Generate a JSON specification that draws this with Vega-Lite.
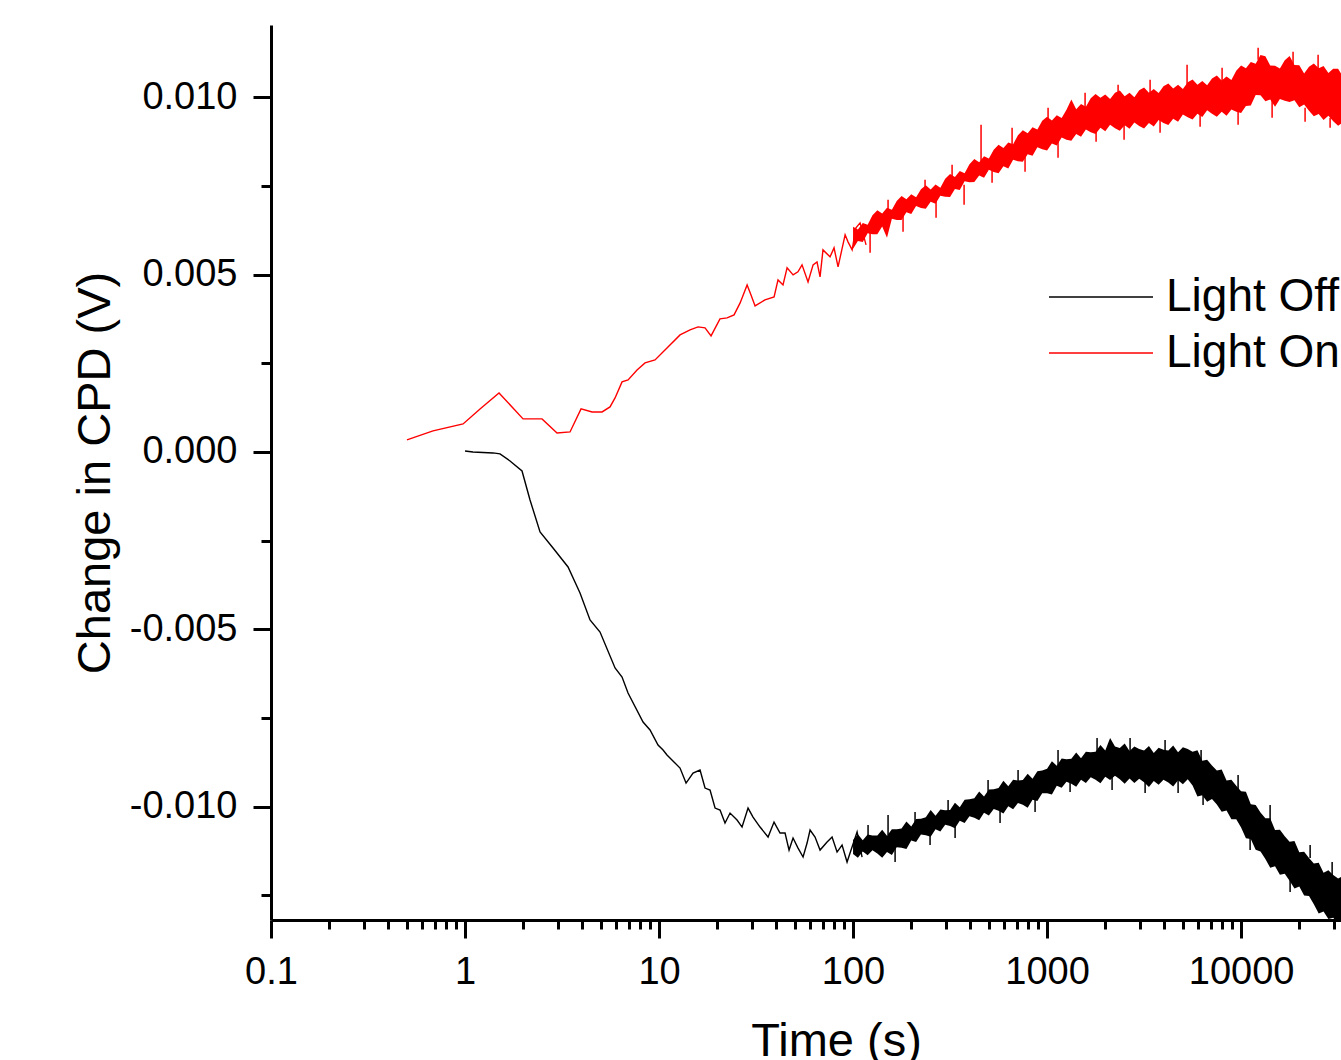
{
  "$schema": "https://vega.github.io/schema/vega-lite/v6.json",
  "width": 1070,
  "height": 895,
  "autosize": {"type": "none"},
  "padding": {"left": 271, "top": 25, "right": 0, "bottom": 140},
  "background": "#ffffff",
  "config": {
    "view": {"stroke": null},
    "font": "Liberation Sans",
    "axis": {
      "grid": false,
      "domainColor": "#000000",
      "domainWidth": 3,
      "tickColor": "#000000",
      "tickWidth": 3,
      "labelColor": "#000000",
      "titleColor": "#000000",
      "labelFont": "Liberation Sans",
      "titleFont": "Liberation Sans",
      "labelFontSize": 38,
      "titleFontSize": 47,
      "titleFontWeight": "normal",
      "labelFlush": false
    }
  },
  "datasets": {
    "lines": [
      {"t": 0.502, "v": 0.000339, "s": "Light On"},
      {"t": 0.684, "v": 0.000592, "s": "Light On"},
      {"t": 0.977, "v": 0.000790, "s": "Light On"},
      {"t": 1.195, "v": 0.001213, "s": "Light On"},
      {"t": 1.497, "v": 0.001664, "s": "Light On"},
      {"t": 1.991, "v": 0.000931, "s": "Light On"},
      {"t": 2.494, "v": 0.000931, "s": "Light On"},
      {"t": 2.980, "v": 0.000536, "s": "Light On"},
      {"t": 3.477, "v": 0.000564, "s": "Light On"},
      {"t": 3.963, "v": 0.001213, "s": "Light On"},
      {"t": 4.518, "v": 0.001128, "s": "Light On"},
      {"t": 5.085, "v": 0.001128, "s": "Light On"},
      {"t": 5.589, "v": 0.001269, "s": "Light On"},
      {"t": 5.934, "v": 0.001523, "s": "Light On"},
      {"t": 6.446, "v": 0.001975, "s": "Light On"},
      {"t": 6.925, "v": 0.002031, "s": "Light On"},
      {"t": 7.703, "v": 0.002313, "s": "Light On"},
      {"t": 8.468, "v": 0.002511, "s": "Light On"},
      {"t": 9.534, "v": 0.002595, "s": "Light On"},
      {"t": 10.99, "v": 0.002934, "s": "Light On"},
      {"t": 12.83, "v": 0.003301, "s": "Light On"},
      {"t": 14.45, "v": 0.003442, "s": "Light On"},
      {"t": 15.89, "v": 0.003526, "s": "Light On"},
      {"t": 17.26, "v": 0.003498, "s": "Light On"},
      {"t": 18.54, "v": 0.003272, "s": "Light On"},
      {"t": 20.61, "v": 0.003752, "s": "Light On"},
      {"t": 22.42, "v": 0.003780, "s": "Light On"},
      {"t": 24.36, "v": 0.003865, "s": "Light On"},
      {"t": 26.18, "v": 0.004203, "s": "Light On"},
      {"t": 28.44, "v": 0.004711, "s": "Light On"},
      {"t": 29.79, "v": 0.004429, "s": "Light On"},
      {"t": 31.26, "v": 0.004119, "s": "Light On"},
      {"t": 35.16, "v": 0.004288, "s": "Light On"},
      {"t": 39.17, "v": 0.004373, "s": "Light On"},
      {"t": 41.04, "v": 0.004852, "s": "Light On"},
      {"t": 43.55, "v": 0.004711, "s": "Light On"},
      {"t": 45.71, "v": 0.005191, "s": "Light On"},
      {"t": 49.09, "v": 0.004993, "s": "Light On"},
      {"t": 52.0, "v": 0.005078, "s": "Light On"},
      {"t": 54.58, "v": 0.005275, "s": "Light On"},
      {"t": 58.61, "v": 0.004796, "s": "Light On"},
      {"t": 62.23, "v": 0.005275, "s": "Light On"},
      {"t": 65.2, "v": 0.005360, "s": "Light On"},
      {"t": 67.6, "v": 0.004937, "s": "Light On"},
      {"t": 69.98, "v": 0.005698, "s": "Light On"},
      {"t": 76.1, "v": 0.005501, "s": "Light On"},
      {"t": 79.8, "v": 0.005755, "s": "Light On"},
      {"t": 83.7, "v": 0.005219, "s": "Light On"},
      {"t": 91.0, "v": 0.006122, "s": "Light On"},
      {"t": 94.2, "v": 0.005924, "s": "Light On"},
      {"t": 98.9, "v": 0.005698, "s": "Light On"},
      {"t": 103.5, "v": 0.006319, "s": "Light On"},
      {"t": 108.7, "v": 0.006460, "s": "Light On"},
      {"t": 116.7, "v": 0.005839, "s": "Light On"},
      {"t": 1.0, "v": 0.000028, "s": "Light Off"},
      {"t": 1.099, "v": 0.0, "s": "Light Off"},
      {"t": 1.394, "v": -0.000028, "s": "Light Off"},
      {"t": 1.515, "v": -0.000056, "s": "Light Off"},
      {"t": 1.706, "v": -0.000254, "s": "Light Off"},
      {"t": 1.967, "v": -0.000536, "s": "Light Off"},
      {"t": 2.163, "v": -0.001354, "s": "Light Off"},
      {"t": 2.436, "v": -0.002257, "s": "Light Off"},
      {"t": 2.842, "v": -0.002708, "s": "Light Off"},
      {"t": 3.396, "v": -0.003244, "s": "Light Off"},
      {"t": 3.915, "v": -0.003978, "s": "Light Off"},
      {"t": 4.409, "v": -0.004739, "s": "Light Off"},
      {"t": 4.965, "v": -0.005078, "s": "Light Off"},
      {"t": 5.933, "v": -0.006093, "s": "Light Off"},
      {"t": 6.447, "v": -0.006347, "s": "Light Off"},
      {"t": 6.922, "v": -0.006799, "s": "Light Off"},
      {"t": 8.272, "v": -0.007617, "s": "Light Off"},
      {"t": 8.987, "v": -0.007842, "s": "Light Off"},
      {"t": 9.881, "v": -0.008266, "s": "Light Off"},
      {"t": 10.49, "v": -0.008407, "s": "Light Off"},
      {"t": 10.99, "v": -0.008548, "s": "Light Off"},
      {"t": 12.83, "v": -0.008914, "s": "Light Off"},
      {"t": 13.78, "v": -0.009338, "s": "Light Off"},
      {"t": 14.97, "v": -0.009055, "s": "Light Off"},
      {"t": 16.27, "v": -0.008971, "s": "Light Off"},
      {"t": 17.26, "v": -0.009479, "s": "Light Off"},
      {"t": 18.32, "v": -0.009535, "s": "Light Off"},
      {"t": 19.44, "v": -0.010043, "s": "Light Off"},
      {"t": 20.63, "v": -0.010099, "s": "Light Off"},
      {"t": 21.88, "v": -0.010466, "s": "Light Off"},
      {"t": 23.23, "v": -0.010184, "s": "Light Off"},
      {"t": 25.24, "v": -0.010381, "s": "Light Off"},
      {"t": 26.78, "v": -0.010579, "s": "Light Off"},
      {"t": 28.76, "v": -0.010043, "s": "Light Off"},
      {"t": 30.51, "v": -0.010297, "s": "Light Off"},
      {"t": 33.16, "v": -0.010579, "s": "Light Off"},
      {"t": 36.47, "v": -0.010861, "s": "Light Off"},
      {"t": 39.15, "v": -0.010438, "s": "Light Off"},
      {"t": 42.04, "v": -0.010748, "s": "Light Off"},
      {"t": 44.62, "v": -0.010748, "s": "Light Off"},
      {"t": 46.79, "v": -0.011228, "s": "Light Off"},
      {"t": 49.06, "v": -0.010889, "s": "Light Off"},
      {"t": 52.06, "v": -0.011171, "s": "Light Off"},
      {"t": 55.26, "v": -0.011425, "s": "Light Off"},
      {"t": 57.94, "v": -0.011030, "s": "Light Off"},
      {"t": 60.04, "v": -0.010663, "s": "Light Off"},
      {"t": 63.70, "v": -0.010861, "s": "Light Off"},
      {"t": 67.60, "v": -0.011228, "s": "Light Off"},
      {"t": 73.47, "v": -0.011002, "s": "Light Off"},
      {"t": 77.96, "v": -0.010861, "s": "Light Off"},
      {"t": 82.72, "v": -0.011284, "s": "Light Off"},
      {"t": 87.77, "v": -0.011087, "s": "Light Off"},
      {"t": 93.13, "v": -0.011566, "s": "Light Off"},
      {"t": 96.5, "v": -0.011312, "s": "Light Off"},
      {"t": 104.9, "v": -0.010720, "s": "Light Off"},
      {"t": 111.3, "v": -0.011425, "s": "Light Off"}
    ],
    "onBand": [
      {"t": 100, "lo": 0.005727, "hi": 0.006347},
      {"t": 105.9, "lo": 0.005950, "hi": 0.006274},
      {"t": 112.2, "lo": 0.005918, "hi": 0.006454},
      {"t": 118.9, "lo": 0.006167, "hi": 0.006409},
      {"t": 125.9, "lo": 0.006139, "hi": 0.006675},
      {"t": 133.4, "lo": 0.006136, "hi": 0.006813},
      {"t": 141.3, "lo": 0.006356, "hi": 0.006722},
      {"t": 149.6, "lo": 0.006043, "hi": 0.006889},
      {"t": 158.5, "lo": 0.006573, "hi": 0.006827},
      {"t": 167.9, "lo": 0.006542, "hi": 0.007078},
      {"t": 177.8, "lo": 0.006539, "hi": 0.007216},
      {"t": 188.4, "lo": 0.006759, "hi": 0.007126},
      {"t": 199.5, "lo": 0.006708, "hi": 0.007270},
      {"t": 211.3, "lo": 0.006937, "hi": 0.007182},
      {"t": 223.9, "lo": 0.006880, "hi": 0.007405},
      {"t": 237.1, "lo": 0.006855, "hi": 0.007518},
      {"t": 251.2, "lo": 0.007055, "hi": 0.007402},
      {"t": 266.1, "lo": 0.006999, "hi": 0.007541},
      {"t": 281.8, "lo": 0.007222, "hi": 0.007447},
      {"t": 298.5, "lo": 0.007194, "hi": 0.007701},
      {"t": 316.2, "lo": 0.007191, "hi": 0.007840},
      {"t": 335.0, "lo": 0.007416, "hi": 0.007755},
      {"t": 354.8, "lo": 0.007385, "hi": 0.007921},
      {"t": 375.8, "lo": 0.007637, "hi": 0.007862},
      {"t": 398.1, "lo": 0.007608, "hi": 0.008116},
      {"t": 421.7, "lo": 0.007611, "hi": 0.008260},
      {"t": 446.7, "lo": 0.007794, "hi": 0.008170},
      {"t": 473.2, "lo": 0.007735, "hi": 0.008336},
      {"t": 501.2, "lo": 0.007955, "hi": 0.008277},
      {"t": 530.9, "lo": 0.007896, "hi": 0.008525},
      {"t": 562.3, "lo": 0.007862, "hi": 0.008660},
      {"t": 595.7, "lo": 0.008057, "hi": 0.008573},
      {"t": 631.0, "lo": 0.007995, "hi": 0.008728},
      {"t": 668.3, "lo": 0.008240, "hi": 0.008680},
      {"t": 707.9, "lo": 0.008198, "hi": 0.008931},
      {"t": 749.9, "lo": 0.008184, "hi": 0.009072},
      {"t": 794.3, "lo": 0.008395, "hi": 0.008985},
      {"t": 841.4, "lo": 0.008353, "hi": 0.009154},
      {"t": 891.3, "lo": 0.008593, "hi": 0.009095},
      {"t": 944.1, "lo": 0.008536, "hi": 0.009343},
      {"t": 1000, "lo": 0.008502, "hi": 0.009456},
      {"t": 1059, "lo": 0.008700, "hi": 0.009349},
      {"t": 1122, "lo": 0.008641, "hi": 0.009495},
      {"t": 1189, "lo": 0.008864, "hi": 0.009416},
      {"t": 1259, "lo": 0.008804, "hi": 0.009648},
      {"t": 1334, "lo": 0.008773, "hi": 0.009936},
      {"t": 1413, "lo": 0.008965, "hi": 0.009662},
      {"t": 1496, "lo": 0.008886, "hi": 0.009814},
      {"t": 1585, "lo": 0.009092, "hi": 0.009738},
      {"t": 1679, "lo": 0.009016, "hi": 0.009972},
      {"t": 1778, "lo": 0.008965, "hi": 0.010094},
      {"t": 1884, "lo": 0.009140, "hi": 0.009986},
      {"t": 1995, "lo": 0.009041, "hi": 0.010079},
      {"t": 2113, "lo": 0.009225, "hi": 0.009950},
      {"t": 2239, "lo": 0.009126, "hi": 0.010127},
      {"t": 2371, "lo": 0.009055, "hi": 0.010192},
      {"t": 2512, "lo": 0.009211, "hi": 0.010031},
      {"t": 2661, "lo": 0.009112, "hi": 0.010127},
      {"t": 2818, "lo": 0.009292, "hi": 0.010006},
      {"t": 2985, "lo": 0.009194, "hi": 0.010198},
      {"t": 3162, "lo": 0.009123, "hi": 0.010277},
      {"t": 3350, "lo": 0.009278, "hi": 0.010130},
      {"t": 3548, "lo": 0.009180, "hi": 0.010237},
      {"t": 3758, "lo": 0.009363, "hi": 0.010122},
      {"t": 3981, "lo": 0.009275, "hi": 0.010314},
      {"t": 4217, "lo": 0.009222, "hi": 0.010393},
      {"t": 4467, "lo": 0.009394, "hi": 0.010246},
      {"t": 4732, "lo": 0.009315, "hi": 0.010353},
      {"t": 5012, "lo": 0.009515, "hi": 0.010235},
      {"t": 5309, "lo": 0.009436, "hi": 0.010426},
      {"t": 5623, "lo": 0.009377, "hi": 0.010505},
      {"t": 5957, "lo": 0.009538, "hi": 0.010356},
      {"t": 6310, "lo": 0.009445, "hi": 0.010460},
      {"t": 6683, "lo": 0.009637, "hi": 0.010342},
      {"t": 7079, "lo": 0.009535, "hi": 0.010534},
      {"t": 7499, "lo": 0.009450, "hi": 0.010618},
      {"t": 7943, "lo": 0.009591, "hi": 0.010474},
      {"t": 8414, "lo": 0.009479, "hi": 0.010587},
      {"t": 8913, "lo": 0.009659, "hi": 0.010491},
      {"t": 9441, "lo": 0.009591, "hi": 0.010751},
      {"t": 10000, "lo": 0.009555, "hi": 0.010897},
      {"t": 10590, "lo": 0.009755, "hi": 0.010821},
      {"t": 11220, "lo": 0.009769, "hi": 0.010996},
      {"t": 11890, "lo": 0.010065, "hi": 0.010948},
      {"t": 12590, "lo": 0.010060, "hi": 0.011191},
      {"t": 13340, "lo": 0.009888, "hi": 0.011157},
      {"t": 14130, "lo": 0.009938, "hi": 0.010897},
      {"t": 14960, "lo": 0.009732, "hi": 0.010889},
      {"t": 15850, "lo": 0.009955, "hi": 0.010810},
      {"t": 16790, "lo": 0.009905, "hi": 0.011044},
      {"t": 17780, "lo": 0.009868, "hi": 0.011166},
      {"t": 18840, "lo": 0.009921, "hi": 0.010909},
      {"t": 19950, "lo": 0.009721, "hi": 0.010906},
      {"t": 21130, "lo": 0.009797, "hi": 0.010672},
      {"t": 22390, "lo": 0.009622, "hi": 0.010861},
      {"t": 23710, "lo": 0.009465, "hi": 0.010954},
      {"t": 25120, "lo": 0.009532, "hi": 0.010821},
      {"t": 26610, "lo": 0.009360, "hi": 0.010881},
      {"t": 28180, "lo": 0.009484, "hi": 0.010686},
      {"t": 29850, "lo": 0.009326, "hi": 0.010804},
      {"t": 31620, "lo": 0.009197, "hi": 0.010807},
      {"t": 33500, "lo": 0.009292, "hi": 0.010587}
    ],
    "offBand": [
      {"t": 100, "lo": -0.011340, "hi": -0.010945},
      {"t": 105.9, "lo": -0.011445, "hi": -0.010779},
      {"t": 112.2, "lo": -0.011267, "hi": -0.010954},
      {"t": 118.9, "lo": -0.011371, "hi": -0.010788},
      {"t": 125.9, "lo": -0.011230, "hi": -0.010819},
      {"t": 133.4, "lo": -0.011323, "hi": -0.010819},
      {"t": 141.3, "lo": -0.011442, "hi": -0.010652},
      {"t": 149.6, "lo": -0.011281, "hi": -0.010822},
      {"t": 158.5, "lo": -0.011369, "hi": -0.010644},
      {"t": 167.9, "lo": -0.011151, "hi": -0.010644},
      {"t": 177.8, "lo": -0.011160, "hi": -0.010618},
      {"t": 188.4, "lo": -0.011199, "hi": -0.010421},
      {"t": 199.5, "lo": -0.010957, "hi": -0.010562},
      {"t": 211.3, "lo": -0.010999, "hi": -0.010353},
      {"t": 223.9, "lo": -0.010790, "hi": -0.010342},
      {"t": 237.1, "lo": -0.010807, "hi": -0.010299},
      {"t": 251.2, "lo": -0.010855, "hi": -0.010096},
      {"t": 266.1, "lo": -0.010638, "hi": -0.010257},
      {"t": 281.8, "lo": -0.010703, "hi": -0.010082},
      {"t": 298.5, "lo": -0.010514, "hi": -0.010105},
      {"t": 316.2, "lo": -0.010551, "hi": -0.010099},
      {"t": 335.0, "lo": -0.010615, "hi": -0.009890},
      {"t": 354.8, "lo": -0.010398, "hi": -0.010020},
      {"t": 375.8, "lo": -0.010463, "hi": -0.009809},
      {"t": 398.1, "lo": -0.010274, "hi": -0.009797},
      {"t": 421.7, "lo": -0.010316, "hi": -0.009769},
      {"t": 446.7, "lo": -0.010390, "hi": -0.009574},
      {"t": 473.2, "lo": -0.010178, "hi": -0.009716},
      {"t": 501.2, "lo": -0.010251, "hi": -0.009521},
      {"t": 530.9, "lo": -0.010071, "hi": -0.009515},
      {"t": 562.3, "lo": -0.010119, "hi": -0.009479},
      {"t": 595.7, "lo": -0.010195, "hi": -0.009273},
      {"t": 631.0, "lo": -0.009992, "hi": -0.009425},
      {"t": 668.3, "lo": -0.010074, "hi": -0.009244},
      {"t": 707.9, "lo": -0.009899, "hi": -0.009264},
      {"t": 749.9, "lo": -0.009950, "hi": -0.009253},
      {"t": 794.3, "lo": -0.010032, "hi": -0.009075},
      {"t": 841.4, "lo": -0.009806, "hi": -0.009216},
      {"t": 891.3, "lo": -0.009842, "hi": -0.009002},
      {"t": 944.1, "lo": -0.009622, "hi": -0.008982},
      {"t": 1000, "lo": -0.009628, "hi": -0.008937},
      {"t": 1059, "lo": -0.009662, "hi": -0.008722},
      {"t": 1122, "lo": -0.009416, "hi": -0.008847},
      {"t": 1189, "lo": -0.009470, "hi": -0.008649},
      {"t": 1259, "lo": -0.009301, "hi": -0.008666},
      {"t": 1334, "lo": -0.009357, "hi": -0.008655},
      {"t": 1413, "lo": -0.009445, "hi": -0.008477},
      {"t": 1496, "lo": -0.009247, "hi": -0.008635},
      {"t": 1585, "lo": -0.009335, "hi": -0.008455},
      {"t": 1679, "lo": -0.009177, "hi": -0.008469},
      {"t": 1778, "lo": -0.009244, "hi": -0.008452},
      {"t": 1884, "lo": -0.009343, "hi": -0.008268},
      {"t": 1995, "lo": -0.009157, "hi": -0.008421},
      {"t": 2113, "lo": -0.009253, "hi": -0.008068},
      {"t": 2239, "lo": -0.009129, "hi": -0.008308},
      {"t": 2371, "lo": -0.009230, "hi": -0.008350},
      {"t": 2512, "lo": -0.009360, "hi": -0.008223},
      {"t": 2661, "lo": -0.009208, "hi": -0.008432},
      {"t": 2818, "lo": -0.009338, "hi": -0.008305},
      {"t": 2985, "lo": -0.009216, "hi": -0.008376},
      {"t": 3162, "lo": -0.009318, "hi": -0.008418},
      {"t": 3350, "lo": -0.009448, "hi": -0.008291},
      {"t": 3548, "lo": -0.009278, "hi": -0.008488},
      {"t": 3758, "lo": -0.009388, "hi": -0.008345},
      {"t": 3981, "lo": -0.009244, "hi": -0.008398},
      {"t": 4217, "lo": -0.009323, "hi": -0.008421},
      {"t": 4467, "lo": -0.009433, "hi": -0.008277},
      {"t": 4732, "lo": -0.009261, "hi": -0.008471},
      {"t": 5012, "lo": -0.009371, "hi": -0.008328},
      {"t": 5309, "lo": -0.009228, "hi": -0.008381},
      {"t": 5623, "lo": -0.009408, "hi": -0.008457},
      {"t": 5957, "lo": -0.009716, "hi": -0.008412},
      {"t": 6310, "lo": -0.009679, "hi": -0.008711},
      {"t": 6683, "lo": -0.009862, "hi": -0.008680},
      {"t": 7079, "lo": -0.009789, "hi": -0.008844},
      {"t": 7499, "lo": -0.009941, "hi": -0.008982},
      {"t": 7943, "lo": -0.010144, "hi": -0.008954},
      {"t": 8414, "lo": -0.010113, "hi": -0.009267},
      {"t": 8913, "lo": -0.010361, "hi": -0.009242},
      {"t": 9441, "lo": -0.010359, "hi": -0.009416},
      {"t": 10000, "lo": -0.010590, "hi": -0.009569},
      {"t": 10590, "lo": -0.010897, "hi": -0.009586},
      {"t": 11220, "lo": -0.010917, "hi": -0.009938},
      {"t": 11890, "lo": -0.011222, "hi": -0.009955},
      {"t": 12590, "lo": -0.011267, "hi": -0.010167},
      {"t": 13340, "lo": -0.011481, "hi": -0.010333},
      {"t": 14130, "lo": -0.011724, "hi": -0.010328},
      {"t": 14960, "lo": -0.011687, "hi": -0.010663},
      {"t": 15850, "lo": -0.011927, "hi": -0.010658},
      {"t": 16790, "lo": -0.011899, "hi": -0.010838},
      {"t": 17780, "lo": -0.012091, "hi": -0.010991},
      {"t": 18840, "lo": -0.012314, "hi": -0.010974},
      {"t": 19950, "lo": -0.012254, "hi": -0.011292},
      {"t": 21130, "lo": -0.012511, "hi": -0.011276},
      {"t": 22390, "lo": -0.012520, "hi": -0.011453},
      {"t": 23710, "lo": -0.012757, "hi": -0.011606},
      {"t": 25120, "lo": -0.013019, "hi": -0.011586},
      {"t": 26610, "lo": -0.012962, "hi": -0.011871},
      {"t": 28180, "lo": -0.013171, "hi": -0.011800},
      {"t": 29850, "lo": -0.013135, "hi": -0.011930},
      {"t": 31620, "lo": -0.013315, "hi": -0.012029},
      {"t": 33500, "lo": -0.013530, "hi": -0.011961}
    ],
    "onSpikes": [
      {"t": 122.4, "lo": 0.005614, "hi": 0.006404},
      {"t": 151.5, "lo": 0.006488, "hi": 0.007109},
      {"t": 181.0, "lo": 0.006206, "hi": 0.006968},
      {"t": 235.0, "lo": 0.007109, "hi": 0.007673},
      {"t": 267.8, "lo": 0.006601, "hi": 0.007165},
      {"t": 323.9, "lo": 0.007532, "hi": 0.008096},
      {"t": 373.5, "lo": 0.006968, "hi": 0.007532},
      {"t": 456.8, "lo": 0.008096, "hi": 0.009225},
      {"t": 520.6, "lo": 0.007588, "hi": 0.008096},
      {"t": 660.2, "lo": 0.008519, "hi": 0.009140},
      {"t": 770.0, "lo": 0.007899, "hi": 0.008519},
      {"t": 1012, "lo": 0.009225, "hi": 0.009704},
      {"t": 1139, "lo": 0.008294, "hi": 0.008802},
      {"t": 1570, "lo": 0.009648, "hi": 0.010127},
      {"t": 1789, "lo": 0.008745, "hi": 0.009140},
      {"t": 2323, "lo": 0.009930, "hi": 0.010353},
      {"t": 2494, "lo": 0.008802, "hi": 0.009225},
      {"t": 3396, "lo": 0.010071, "hi": 0.010494},
      {"t": 3823, "lo": 0.008999, "hi": 0.009366},
      {"t": 5267, "lo": 0.010353, "hi": 0.010917},
      {"t": 6148, "lo": 0.009168, "hi": 0.009591},
      {"t": 7981, "lo": 0.010438, "hi": 0.010833},
      {"t": 9650, "lo": 0.009225, "hi": 0.009648},
      {"t": 12240, "lo": 0.011058, "hi": 0.011397},
      {"t": 14450, "lo": 0.009422, "hi": 0.009930},
      {"t": 18530, "lo": 0.010917, "hi": 0.011284},
      {"t": 21370, "lo": 0.009309, "hi": 0.009704},
      {"t": 24940, "lo": 0.010776, "hi": 0.011199},
      {"t": 28760, "lo": 0.009140, "hi": 0.009422}
    ],
    "offSpikes": [
      {"t": 119.5, "lo": -0.011228, "hi": -0.010522},
      {"t": 151.5, "lo": -0.010804, "hi": -0.010240},
      {"t": 164.7, "lo": -0.011566, "hi": -0.011087},
      {"t": 208.7, "lo": -0.010607, "hi": -0.010156},
      {"t": 249.4, "lo": -0.011087, "hi": -0.010522},
      {"t": 308.9, "lo": -0.010240, "hi": -0.009817},
      {"t": 335.7, "lo": -0.010889, "hi": -0.010381},
      {"t": 496.5, "lo": -0.009676, "hi": -0.009253},
      {"t": 572.4, "lo": -0.010466, "hi": -0.009958},
      {"t": 708.8, "lo": -0.009394, "hi": -0.008971},
      {"t": 867.3, "lo": -0.010156, "hi": -0.009676},
      {"t": 1139, "lo": -0.008830, "hi": -0.008407},
      {"t": 1314, "lo": -0.009591, "hi": -0.009253},
      {"t": 1810, "lo": -0.008463, "hi": -0.008068},
      {"t": 2163, "lo": -0.009535, "hi": -0.009055},
      {"t": 2678, "lo": -0.008463, "hi": -0.008068},
      {"t": 3201, "lo": -0.009620, "hi": -0.009196},
      {"t": 4057, "lo": -0.008463, "hi": -0.008124},
      {"t": 4735, "lo": -0.009620, "hi": -0.009253},
      {"t": 6221, "lo": -0.008830, "hi": -0.008407},
      {"t": 6369, "lo": -0.009958, "hi": -0.009535},
      {"t": 9650, "lo": -0.009535, "hi": -0.009112},
      {"t": 11130, "lo": -0.011228, "hi": -0.010804},
      {"t": 14110, "lo": -0.010381, "hi": -0.009958},
      {"t": 17890, "lo": -0.012412, "hi": -0.012017},
      {"t": 22690, "lo": -0.011453, "hi": -0.011087},
      {"t": 29460, "lo": -0.011933, "hi": -0.011566}
    ]
  },
  "resolve": {"axis": {"x": "independent", "y": "independent"}},
  "layer": [
    {
      "data": {"name": "onBand"},
      "mark": {"type": "area", "color": "#ff0000", "clip": true, "opacity": 1},
      "encoding": {
        "x": {
          "field": "t", "type": "quantitative",
          "scale": {"type": "log", "domain": [0.1, 32730], "nice": false},
          "axis": {
            "orient": "bottom",
            "values": [0.2, 0.3, 0.4, 0.5, 0.6, 0.7, 0.8, 0.9, 2, 3, 4, 5, 6, 7, 8, 9, 20, 30, 40, 50, 60, 70, 80, 90, 200, 300, 400, 500, 600, 700, 800, 900, 2000, 3000, 4000, 5000, 6000, 7000, 8000, 9000, 20000, 30000],
            "labels": false, "domain": false, "tickSize": 9, "title": null
          }
        },
        "y": {
          "field": "lo", "type": "quantitative",
          "scale": {"domain": [-0.0132, 0.01204], "nice": false, "zero": false},
          "axis": {
            "orient": "left",
            "values": [-0.0125, -0.0075, -0.0025, 0.0025, 0.0075],
            "labels": false, "domain": false, "tickSize": 10, "title": null
          }
        },
        "y2": {"field": "hi"}
      }
    },
    {
      "data": {"name": "offBand"},
      "mark": {"type": "area", "color": "#000000", "clip": true, "opacity": 1},
      "encoding": {
        "x": {"field": "t", "type": "quantitative", "scale": {"type": "log", "domain": [0.1, 32730], "nice": false}, "axis": null},
        "y": {"field": "lo", "type": "quantitative", "scale": {"domain": [-0.0132, 0.01204], "nice": false, "zero": false}, "axis": null},
        "y2": {"field": "hi"}
      }
    },
    {
      "data": {"name": "onSpikes"},
      "mark": {"type": "rule", "color": "#ff0000", "strokeWidth": 1.5, "clip": true},
      "encoding": {
        "x": {"field": "t", "type": "quantitative", "scale": {"type": "log", "domain": [0.1, 32730], "nice": false}, "axis": null},
        "y": {"field": "lo", "type": "quantitative", "scale": {"domain": [-0.0132, 0.01204], "nice": false, "zero": false}, "axis": null},
        "y2": {"field": "hi"}
      }
    },
    {
      "data": {"name": "offSpikes"},
      "mark": {"type": "rule", "color": "#000000", "strokeWidth": 1.5, "clip": true},
      "encoding": {
        "x": {"field": "t", "type": "quantitative", "scale": {"type": "log", "domain": [0.1, 32730], "nice": false}, "axis": null},
        "y": {"field": "lo", "type": "quantitative", "scale": {"domain": [-0.0132, 0.01204], "nice": false, "zero": false}, "axis": null},
        "y2": {"field": "hi"}
      }
    },
    {
      "data": {"name": "lines"},
      "mark": {"type": "line", "strokeWidth": 1.4, "clip": true},
      "encoding": {
        "x": {
          "field": "t", "type": "quantitative",
          "scale": {"type": "log", "domain": [0.1, 32730], "nice": false},
          "axis": {
            "orient": "bottom",
            "values": [0.1, 1, 10, 100, 1000, 10000],
            "labelExpr": "'' + datum.value",
            "tickSize": 18, "labelPadding": 15,
            "title": "Time (s)", "titleX": 565, "titleY": 135,
            "titleAlign": "center", "titleBaseline": "alphabetic"
          }
        },
        "y": {
          "field": "v", "type": "quantitative",
          "scale": {"domain": [-0.0132, 0.01204], "nice": false, "zero": false},
          "axis": {
            "orient": "left",
            "values": [-0.01, -0.005, 0, 0.005, 0.01],
            "labelExpr": "datum.value < 0 ? '-' + format(-datum.value, '.3f') : format(datum.value, '.3f')",
            "tickSize": 18, "labelPadding": 16,
            "title": "Change in CPD (V)", "titlePadding": 10
          }
        },
        "color": {
          "field": "s", "type": "nominal",
          "scale": {"domain": ["Light Off", "Light On"], "range": ["#000000", "#ff0000"]},
          "legend": {
            "orient": "none", "legendX": 777, "legendY": 247,
            "title": null, "padding": 0,
            "symbolType": "stroke", "symbolSize": 10816, "symbolStrokeWidth": 1.5,
            "labelFont": "Liberation Sans", "labelFontSize": 46, "labelColor": "#000000",
            "labelLimit": 500, "labelOffset": 12,
            "clipHeight": 50, "rowPadding": 6
          }
        }
      }
    }
  ]
}
